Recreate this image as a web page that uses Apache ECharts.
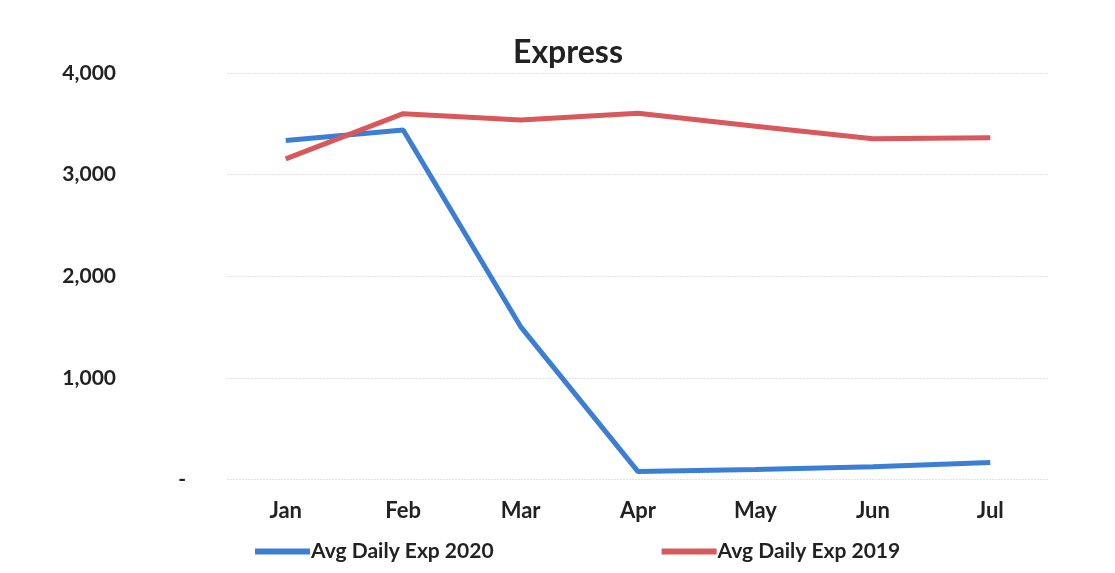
<!DOCTYPE html>
<html><head><meta charset="utf-8">
<script src="https://cdn.jsdelivr.net/npm/echarts@6/dist/echarts.min.js"></script>
<style>html,body{margin:0;padding:0;background:#fff}#c{width:1115px;height:573px}</style>
</head><body><div id="c"></div>
<script>
const categories = ['Jan','Feb','Mar','Apr','May','Jun','Jul'];
const exp2020 = [3335, 3440, 1505, 78, 98, 125, 167];
const exp2019 = [3155, 3600, 3538, 3605, 3475, 3352, 3362];
const yTicks = [0, 1000, 2000, 3000, 4000];
const seriesNames = ['Avg Daily Exp 2020', 'Avg Daily Exp 2019'];
const font = 'Lato';
const chart = echarts.init(document.getElementById('c'));
chart.setOption({
  animation: false,
  backgroundColor: '#fff',
  title: { text: 'Express', left: 563, top: 32, textAlign: 'center',
    textStyle: { fontFamily: font, fontWeight: 'bold', fontSize: 32, color: '#222' } },
  grid: { left: 227, right: 66, top: 73, bottom: 93.5 },
  legend: { left: 250, top: 536, itemWidth: 55, itemHeight: 6, itemGap: 168,
    icon: 'rect',
    textStyle: { fontFamily: font, fontWeight: 'bold', fontSize: 21, color: '#222', padding: [0,0,0,-4] },
    data: seriesNames },
  xAxis: { type: 'category', data: categories, boundaryGap: true,
    axisLine: { show: false }, axisTick: { show: false },
    axisLabel: { margin: 20, fontFamily: font, fontWeight: 'bold', fontSize: 22, color: '#222' } },
  yAxis: { type: 'value', min: 0, max: 4000, interval: 1000,
    axisLine: { show: false }, axisTick: { show: false },
    splitLine: { lineStyle: { color: '#e2e2e2', width: 1, type: [2,1] } },
    axisLabel: { margin: 41, fontFamily: font, fontWeight: 'bold', fontSize: 21, color: '#222',
      formatter: v => yTicks.indexOf(v) >= 0 ? (v === 0 ? '{d|-}' : '{n|' + v.toLocaleString('en-US') + '}') : '',
      rich: { n: { fontFamily: font, fontWeight: 'bold', fontSize: 21, color: '#222', padding: [0,70,0,0] },
              d: { fontFamily: font, fontWeight: 'bold', fontSize: 21, color: '#222' } } } },
  series: [
    { name: seriesNames[0], type: 'line', data: exp2020, symbol: 'none', color: '#3B7FD4',
      lineStyle: { width: 5, color: '#3B7FD4' } },
    { name: seriesNames[1], type: 'line', data: exp2019, symbol: 'none', color: '#D9585C',
      lineStyle: { width: 5, color: '#D9585C' } }
  ]
});
</script></body></html>
